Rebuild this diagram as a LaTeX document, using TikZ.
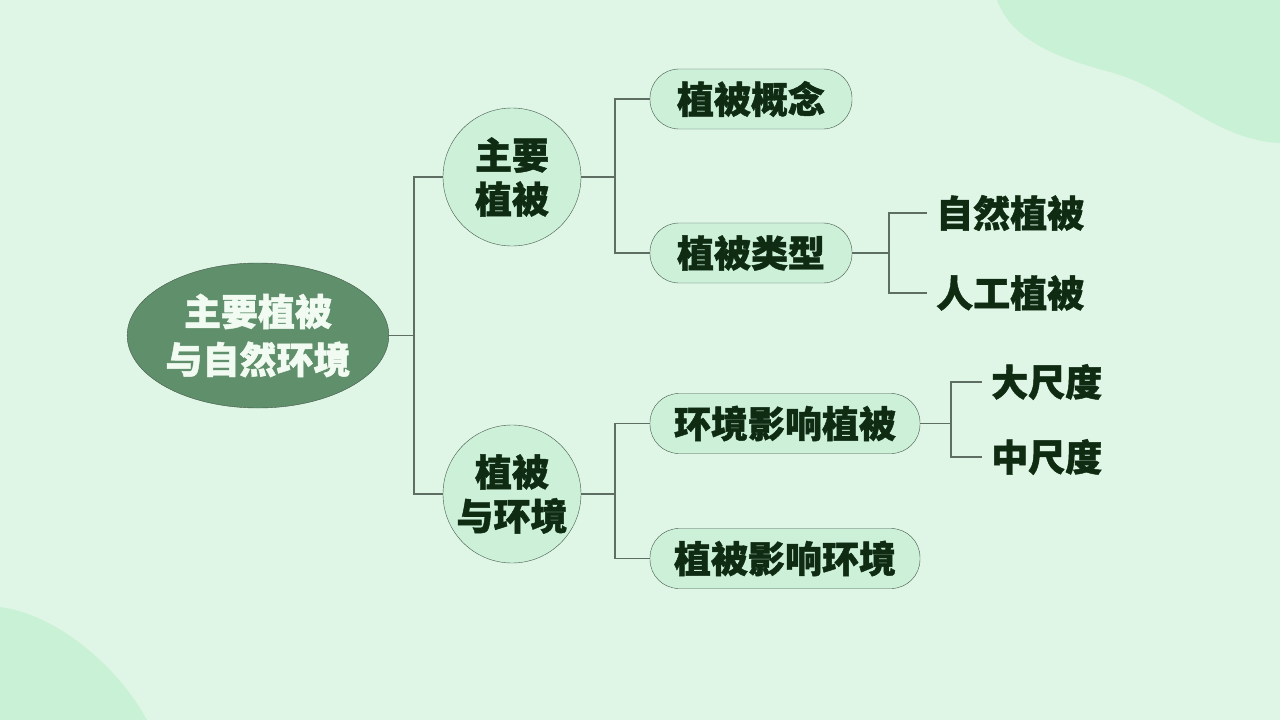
\documentclass[tikz,border=0pt]{standalone}
\usepackage{fontspec}
\setmainfont{Noto Sans CJK SC}[BoldFeatures={FakeBold=1.2}]
\usepackage{tikz}
\usetikzlibrary{shapes.geometric}
\definecolor{bgfill}{HTML}{DFF6E6}
\definecolor{blobfill}{HTML}{C9F1D6}
\definecolor{rootfill}{HTML}{5F8F6B}
\definecolor{nodefill}{HTML}{CCF0D8}
\definecolor{inkdark}{HTML}{0F2C13}
\definecolor{linegray}{HTML}{5E6E63}
\definecolor{rimgray}{HTML}{46584B}
\definecolor{roottext}{HTML}{F2FBF2}

\begin{document}
\begin{tikzpicture}[x=1pt,y=-1pt,
  txt/.style={font=\bfseries\fontsize{37}{44}\selectfont,text=inkdark},
  root/.style={ellipse,draw=rimgray,fill=rootfill,minimum width=258pt,minimum height=145pt,
    inner sep=0pt,align=center,font=\bfseries\fontsize{37}{48}\selectfont,text=roottext},
  ring/.style={txt,circle,draw=rimgray,fill=nodefill,minimum size=138pt,inner sep=0pt,align=center},
  pill/.style={txt,draw=rimgray,fill=nodefill,rounded corners=29pt,minimum height=60pt,inner sep=0pt},
  leaf/.style={txt,anchor=west,inner sep=9pt},
  conn/.style={draw=linegray,line width=1.2pt}]
\useasboundingbox (0,0) rectangle (1280,720);
\fill[bgfill] (0,0) rectangle (1280,720);
\fill[blobfill] (997,0) .. controls (1010,35) and (1045,55) .. (1110,72)
  .. controls (1175,90) and (1215,140) .. (1280,143) -- (1280,0) -- cycle;
\fill[blobfill] (0,607) .. controls (60,615) and (120,670) .. (147,720) -- (0,720) -- cycle;

\node[root] (veg) at (258,335.5) {主要植被\\与自然环境};
\node[ring] (main) at (512,177) {主要\\植被};
\node[ring] (env) at (512,494) {植被\\与环境};
\node[pill,minimum width=202pt] (idea) at (751,99) {植被概念};
\node[pill,minimum width=202pt] (kind) at (751,253) {植被类型};
\node[pill,minimum width=270pt] (envon) at (785,423.5) {环境影响植被};
\node[pill,minimum width=270pt] (vegon) at (785,558.5) {植被影响环境};
\node[leaf] (nat) at (927,213) {自然植被};
\node[leaf] (art) at (927,293) {人工植被};
\node[leaf] (big) at (982,382) {大尺度};
\node[leaf] (mid) at (982,457) {中尺度};

\coordinate (j0) at (414,335.5);
\coordinate (j1) at (615,177);
\coordinate (j2) at (615,494);
\coordinate (j3) at (889,253);
\coordinate (j4) at (951,423.5);

\draw[conn] (veg.east) -- (j0) |- (main.west);
\draw[conn] (j0) |- (env.west);
\draw[conn] (main.east) -- (j1) |- (idea.west);
\draw[conn] (j1) |- (kind.west);
\draw[conn] (env.east) -- (j2) |- (envon.west);
\draw[conn] (j2) |- (vegon.west);
\draw[conn] (kind.east) -- (j3) |- (nat.west);
\draw[conn] (j3) |- (art.west);
\draw[conn] (envon.east) -- (j4) |- (big.west);
\draw[conn] (j4) |- (mid.west);
\end{tikzpicture}
\end{document}
